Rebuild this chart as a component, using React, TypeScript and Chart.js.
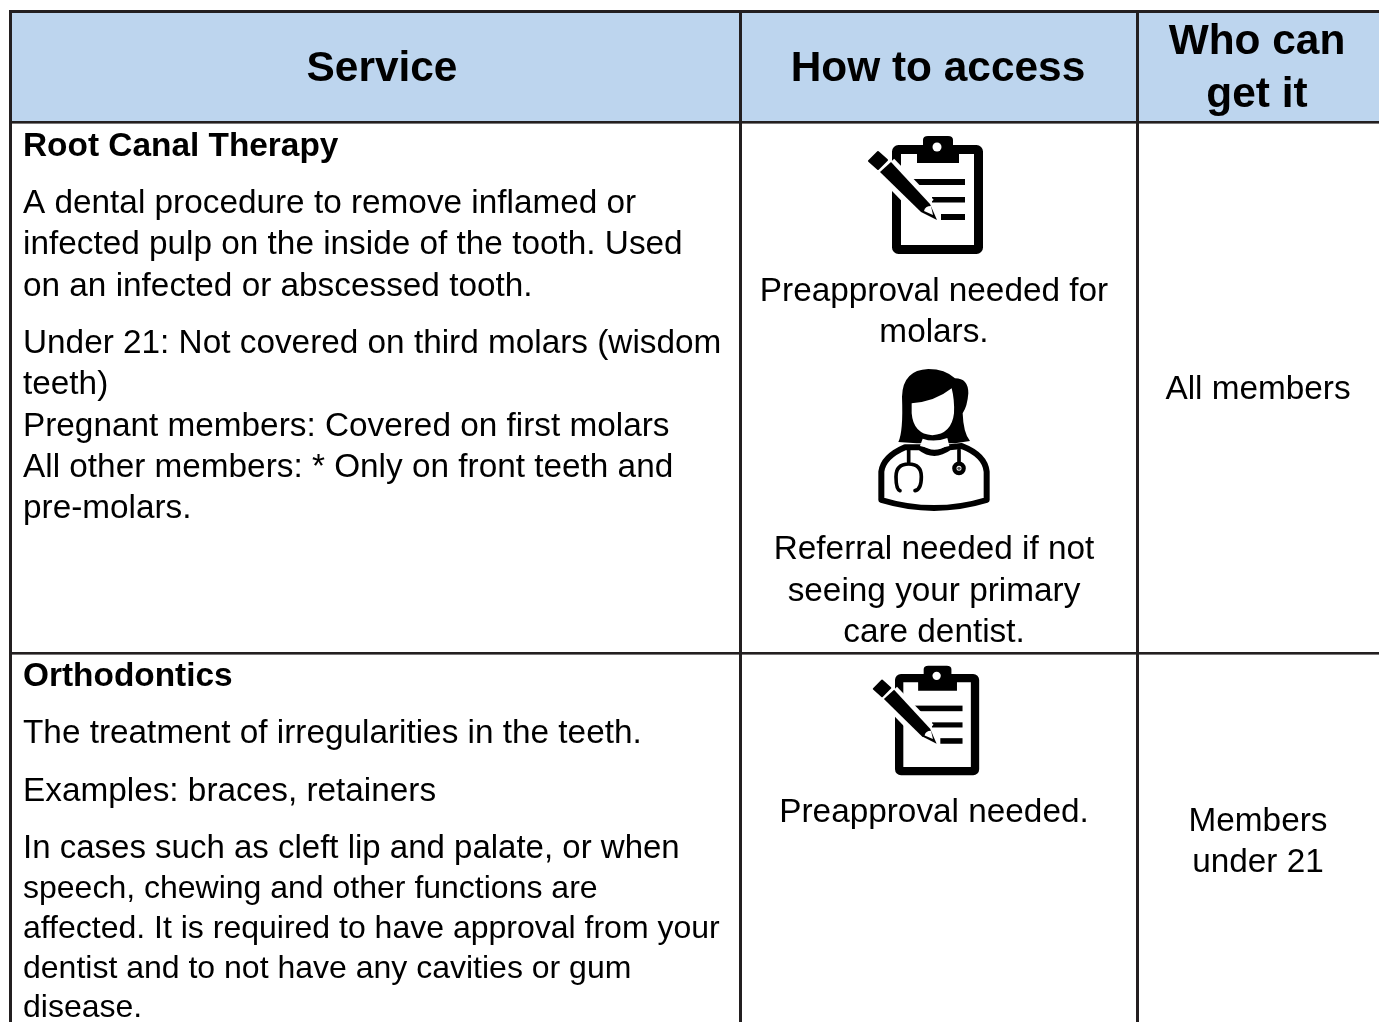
import React, { useEffect, useRef } from "react";
import { Chart, registerables } from "chart.js";

Chart.register(...registerables);

const headers = ["Service", "How to access", "Who can", "get it"];
const row1Title = "Root Canal Therapy";
const row1Body = [
  "A dental procedure to remove inflamed or",
  "infected pulp on the inside of the tooth. Used",
  "on an infected or abscessed tooth.",
  "Under 21: Not covered on third molars (wisdom",
  "teeth)",
  "Pregnant members: Covered on first molars",
  "All other members: * Only on front teeth and",
  "pre-molars.",
];
const row1Access = ["Preapproval needed for", "molars.", "Referral needed if not", "seeing your primary", "care dentist."];
const row1Who = ["All members"];
const row2Title = "Orthodontics";
const row2Body = [
  "The treatment of irregularities in the teeth.",
  "Examples: braces, retainers",
  "In cases such as cleft lip and palate, or when",
  "speech, chewing and other functions are",
  "affected. It is required to have approval from your",
  "dentist and to not have any cavities or gum",
  "disease.",
];
const row2Access = ["Preapproval needed."];
const row2Who = ["Members", "under 21"];

const FONT = '"Liberation Sans", Arial, sans-serif';
const INK = "#000000";
const LINE = "#231f20";
const HEAD = "#bdd5ee";

function clipboard(c: CanvasRenderingContext2D, x: number, y: number, sx: number, sy: number) {
  // local units: pixels from the board's outer top-left corner
  c.save();
  c.translate(x, y);
  c.scale(sx, sy);
  c.fillStyle = INK;
  c.strokeStyle = INK;
  c.lineJoin = "round";
  c.lineWidth = 9;
  c.beginPath();
  c.roundRect(4.5, 4.5, 82, 100, 2);
  c.stroke();
  // clip
  c.beginPath();
  c.moveTo(25, 18);
  c.lineTo(25, 0);
  c.lineTo(31, 0);
  c.lineTo(31, -5);
  c.quadraticCurveTo(31, -9, 36, -9);
  c.lineTo(56, -9);
  c.quadraticCurveTo(61, -9, 61, -5);
  c.lineTo(61, 0);
  c.lineTo(67, 0);
  c.lineTo(67, 18);
  c.closePath();
  c.fill();
  c.fillStyle = "#ffffff";
  c.beginPath();
  c.arc(45, 2, 4.5, 0, Math.PI * 2);
  c.fill();
  // writing lines
  c.fillStyle = INK;
  c.fillRect(21, 34, 52, 6);
  c.fillRect(40, 52, 33, 5.5);
  // halo behind the pen
  c.strokeStyle = "#ffffff";
  c.lineWidth = 24;
  c.lineCap = "butt";
  c.beginPath();
  c.moveTo(-6.5, 22);
  c.lineTo(33, 63);
  c.stroke();
  c.fillStyle = INK;
  c.fillRect(49, 69, 24, 6);
  // pen body
  c.beginPath();
  c.moveTo(-12, 27);
  c.lineTo(-1, 17);
  c.lineTo(38, 59);
  c.lineTo(45, 75);
  c.lineTo(29, 67);
  c.closePath();
  c.fill();
  // nib
  c.fillStyle = "#ffffff";
  c.beginPath();
  c.moveTo(32, 66);
  c.quadraticCurveTo(33, 61, 39, 61);
  c.lineTo(41, 70);
  c.closePath();
  c.fill();
  // eraser
  c.fillStyle = INK;
  c.beginPath();
  c.moveTo(-23, 16);
  c.lineTo(-14, 7);
  c.lineTo(-5, 15);
  c.lineTo(-14, 24);
  c.closePath();
  c.lineWidth = 2;
  c.strokeStyle = INK;
  c.stroke();
  c.fill();
  c.restore();
}

function doctor(c: CanvasRenderingContext2D, x: number, y: number) {
  // local units: one third of a pixel
  c.save();
  c.translate(x, y);
  c.scale(1 / 3, 1 / 3);
  c.fillStyle = INK;
  c.strokeStyle = INK;
  c.lineJoin = "round";
  // body
  c.lineWidth = 18;
  c.fillStyle = "#ffffff";
  c.beginPath();
  c.moveTo(64, 420);
  c.lineTo(64, 335);
  c.quadraticCurveTo(70, 290, 135, 262);
  c.lineTo(180, 262);
  c.quadraticCurveTo(222, 295, 268, 262);
  c.lineTo(305, 258);
  c.quadraticCurveTo(375, 285, 380, 335);
  c.lineTo(380, 420);
  c.quadraticCurveTo(222, 468, 64, 420);
  c.closePath();
  c.stroke();
  // hair
  c.fillStyle = INK;
  c.beginPath();
  c.moveTo(115, 246);
  c.quadraticCurveTo(130, 215, 126, 110);
  c.quadraticCurveTo(128, 30, 205, 27);
  c.quadraticCurveTo(255, 27, 285, 55);
  c.quadraticCurveTo(325, 55, 325, 100);
  c.quadraticCurveTo(322, 140, 308, 160);
  c.quadraticCurveTo(310, 220, 330, 243);
  c.lineTo(285, 250);
  c.lineTo(170, 250);
  c.closePath();
  c.fill();
  // face
  c.fillStyle = "#ffffff";
  c.beginPath();
  c.moveTo(155, 130);
  c.quadraticCurveTo(225, 125, 275, 85);
  c.quadraticCurveTo(284, 120, 282, 160);
  c.quadraticCurveTo(275, 222, 217, 226);
  c.quadraticCurveTo(160, 222, 155, 160);
  c.closePath();
  c.fill();
  // neck
  c.beginPath();
  c.moveTo(188, 236);
  c.quadraticCurveTo(222, 248, 262, 234);
  c.lineTo(268, 258);
  c.quadraticCurveTo(222, 272, 180, 258);
  c.closePath();
  c.fill();
  // stethoscope
  c.strokeStyle = INK;
  c.lineWidth = 11;
  c.lineCap = "round";
  c.beginPath();
  c.moveTo(146, 270);
  c.lineTo(146, 312);
  c.moveTo(120, 392);
  c.quadraticCurveTo(108, 388, 108, 350);
  c.quadraticCurveTo(108, 312, 146, 312);
  c.quadraticCurveTo(184, 312, 184, 350);
  c.quadraticCurveTo(184, 388, 165, 392);
  c.moveTo(297, 270);
  c.lineTo(297, 305);
  c.stroke();
  c.lineWidth = 13;
  c.beginPath();
  c.arc(297, 325, 14, 0, Math.PI * 2);
  c.stroke();
  c.fillStyle = "#555555";
  c.beginPath();
  c.arc(297, 325, 5, 0, Math.PI * 2);
  c.fill();
  c.restore();
}

const tablePlugin = {
  id: "table",
  afterDraw(chart: any) {
    const c: CanvasRenderingContext2D = chart.ctx;
    const X = (v: number) => chart.scales.x.getPixelForValue(v);
    const Y = (v: number) => chart.scales.y.getPixelForValue(v);
    c.save();
    c.fillStyle = HEAD;
    c.fillRect(X(10), Y(12), X(1379) - X(10), Y(122) - Y(12));
    c.fillStyle = LINE;
    c.fillRect(X(9), Y(10), 1370, 3);
    c.fillRect(X(11), Y(121), 1368, 2.6);
    c.fillRect(X(11), Y(652), 1368, 2.6);
    c.fillRect(X(9), Y(10), 3, 1012);
    c.fillRect(X(739), Y(10), 3, 1012);
    c.fillRect(X(1136), Y(10), 3, 1012);

    c.fillStyle = INK;
    c.textBaseline = "alphabetic";
    const put = (t: string, x: number, y: number, font: string, align: CanvasTextAlign) => {
      c.font = font;
      c.textAlign = align;
      c.fillText(t, X(x), Y(y));
    };
    const head = `bold 42.4px ${FONT}`;
    const bold = `bold 33.4px ${FONT}`;
    const reg = `33.35px ${FONT}`;
    const small = `32px ${FONT}`;
    put(headers[0], 382, 81, head, "center");
    put(headers[1], 938, 81, head, "center");
    put(headers[2], 1257, 54, head, "center");
    put(headers[3], 1257, 107, head, "center");

    put(row1Title, 23, 156, bold, "left");
    [213, 254, 296, 353, 394, 436, 477, 518].forEach((y, i) => put(row1Body[i], 23, y, reg, "left"));
    [301, 342, 559, 601, 642].forEach((y, i) => put(row1Access[i], 934, y, reg, "center"));
    put(row1Who[0], 1258, 399, reg, "center");

    put(row2Title, 23, 686, bold, "left");
    [743, 801].forEach((y, i) => put(row2Body[i], 23, y, reg, "left"));
    put(row2Body[2], 23, 858, `33px ${FONT}`, "left");
    [898, 938, 978, 1017].forEach((y, i) => put(row2Body[i + 3], 23, y, small, "left"));
    put(row2Access[0], 934, 822, reg, "center");
    [831, 872].forEach((y, i) => put(row2Who[i], 1258, y, reg, "center"));

    clipboard(c, X(892), Y(145), 1, 1);
    doctor(c, X(860), Y(360));
    clipboard(c, X(895), Y(674), 0.925, 0.93);
    c.restore();
  },
};

export default function App() {
  const ref = useRef<HTMLCanvasElement>(null);
  useEffect(() => {
    const chart = new Chart(ref.current!, {
      type: "scatter",
      data: { datasets: [{ data: [] }] },
      options: {
        animation: false,
        responsive: false,
        layout: { padding: 0 },
        plugins: { legend: { display: false }, tooltip: { enabled: false } },
        scales: {
          x: { type: "linear", min: 0, max: 1379, display: false },
          y: { type: "linear", min: 0, max: 1022, reverse: true, display: false },
        },
      },
      plugins: [tablePlugin],
    });
    return () => chart.destroy();
  }, []);
  return (
    <canvas
      ref={ref}
      width={1379}
      height={1022}
      style={{ position: "fixed", left: 0, top: 0, width: 1379, height: 1022, background: "#ffffff" }}
    />
  );
}
